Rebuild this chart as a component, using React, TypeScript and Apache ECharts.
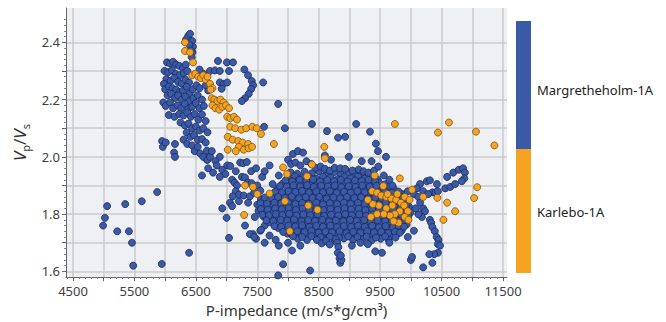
import React, { useEffect, useRef } from "react";
import * as echarts from "echarts";

const FONT = "Noto Sans";

const X_TICKS = [4500, 5000, 5500, 6000, 6500, 7000, 7500, 8000, 8500, 9000, 9500, 10000, 10500, 11000, 11500];
const X_LABELS = [4500, 5500, 6500, 7500, 8500, 9500, 10500, 11500];
const Y_TICKS = [1.6, 1.7, 1.8, 1.9, 2.0, 2.1, 2.2, 2.3, 2.4];
const Y_LABELS = [1.6, 1.8, 2.0, 2.2, 2.4];
const LEGEND_NAMES = ["Margretheholm-1A", "Karlebo-1A"];

// Margretheholm-1A (blue)
const margUpper: number[][] = [
  [6340, 2.41], [6375, 2.422], [6405, 2.43], [6440, 2.405], [6452, 2.385], [6445, 2.365], [6432, 2.348], [6395, 2.392], [6420, 2.372],
  [6030, 2.33], [6080, 2.326], [6130, 2.332], [6180, 2.322], [6230, 2.318], [6290, 2.31], [6335, 2.322],
  [5990, 2.3], [6050, 2.296], [6110, 2.302], [6170, 2.29], [6240, 2.286], [6300, 2.292], [6360, 2.3],
  [6020, 2.272], [6090, 2.266], [6150, 2.276], [6210, 2.262], [6270, 2.256], [6330, 2.27], [6390, 2.26],
  [5980, 2.255], [6000, 2.236], [6060, 2.246], [6120, 2.24], [6180, 2.235], [6230, 2.225], [6290, 2.232], [6350, 2.245], [6400, 2.222], [6450, 2.236], [6510, 2.25], [6560, 2.24],
  [6040, 2.215], [6100, 2.22], [6160, 2.206], [6210, 2.215], [6270, 2.2], [6330, 2.21], [6390, 2.195], [6460, 2.205], [6530, 2.215], [6600, 2.2],
  [5970, 2.19], [6010, 2.178], [6080, 2.19], [6130, 2.17], [6200, 2.18], [6260, 2.17], [6320, 2.185], [6380, 2.168], [6440, 2.175], [6500, 2.188], [6560, 2.17], [6630, 2.178],
  [6060, 2.146], [6150, 2.14], [6230, 2.15], [6300, 2.145], [6360, 2.155], [6420, 2.14], [6480, 2.15], [6540, 2.13], [6600, 2.148], [6660, 2.125],
  [6250, 2.12], [6320, 2.11], [6380, 2.116], [6440, 2.1], [6500, 2.106], [6560, 2.092], [6620, 2.1], [6690, 2.086],
  [6350, 2.085], [6410, 2.07], [6470, 2.076], [6530, 2.06], [6600, 2.062], [6660, 2.05],
  [5950, 2.055], [5962, 2.035], [6010, 2.05], [6160, 2.045], [6160, 2.0], [6300, 2.06], [6360, 2.045], [6440, 2.04], [6480, 2.02], [6530, 2.035], [6570, 2.012], [6620, 2.0], [6690, 1.99], [6730, 2.0], [6680, 2.022], [6890, 2.0], [6760, 2.02], [6820, 1.985],
  [6860, 2.335], [7005, 2.33], [7105, 2.33], [6730, 2.3], [6810, 2.302], [6890, 2.3], [7040, 2.3],
  [7290, 2.305], [7350, 2.285], [7410, 2.265], [7432, 2.25], [7400, 2.237], [7360, 2.22], [7300, 2.205], [7250, 2.195], [7595, 2.26], [7840, 2.185],
  [6890, 2.26], [6950, 2.255], [7010, 2.26], [6920, 2.238], [6700, 2.232], [6660, 2.25], [6620, 2.29], [6560, 2.305],
  [7610, 2.105], [7950, 2.1],
];

const margTransition: number[][] = [
  [6930, 1.955], [6980, 1.94], [6890, 1.93], [7010, 1.97], [7060, 1.968], [7090, 1.92], [7130, 1.91], [7170, 1.9], [7220, 1.98], [7270, 1.978],
  [7330, 1.982], [7250, 1.93], [7300, 1.928], [7350, 1.91], [7410, 1.908], [6930, 1.82], [7055, 1.84], [7090, 1.828], [7000, 1.787], [7200, 1.845],
  [7350, 1.84], [7460, 1.79], [7040, 1.717], [7430, 1.73], [7480, 1.714], [7150, 1.88], [7200, 1.868], [7280, 1.865], [7380, 1.862], [7450, 1.875],
  [7500, 1.9], [7550, 1.882], [7580, 1.93], [7620, 1.95], [7400, 1.95], [7480, 1.96], [7700, 1.97], [7300, 1.76], [7550, 1.742], [7620, 1.76],
  [7150, 1.95], [7100, 1.862], [6600, 1.935], [6700, 1.96], [6780, 1.945], [6840, 1.97], [7380, 1.73], [7450, 1.72], [7560, 1.745], [7620, 1.7],
  [7700, 1.725], [7800, 1.71], [7850, 1.69], [7680, 1.81], [7750, 1.905], [7850, 1.935],
];

const margCore: number[][] = [
  [8040, 1.946], [8150, 1.941], [8270, 1.948], [8390, 1.943], [8500, 1.95], [8630, 1.944], [8750, 1.947], [8860, 1.94], [8990, 1.946], [9100, 1.942], [9230, 1.938],
  [8000, 1.925], [8110, 1.932], [8230, 1.926], [8340, 1.93], [8460, 1.924], [8570, 1.931], [8690, 1.927], [8800, 1.922], [8910, 1.929], [9020, 1.925], [9140, 1.931], [9250, 1.924], [9350, 1.928], [9460, 1.92],
  [7910, 1.906], [8030, 1.91], [8140, 1.914], [8250, 1.907], [8360, 1.911], [8480, 1.905], [8590, 1.912], [8700, 1.908], [8820, 1.904], [8930, 1.91], [9040, 1.906], [9160, 1.913], [9270, 1.907], [9380, 1.902], [9490, 1.909], [9580, 1.904],
  [7830, 1.887], [8060, 1.889], [8170, 1.885], [8280, 1.891], [8390, 1.888], [8510, 1.893], [8620, 1.886], [8730, 1.89], [8850, 1.884], [8960, 1.892], [9070, 1.887], [9180, 1.883], [9300, 1.89], [9410, 1.886], [9520, 1.891], [9640, 1.884], [9720, 1.889],
  [7740, 1.867], [7970, 1.869], [8080, 1.865], [8190, 1.872], [8310, 1.868], [8420, 1.863], [8530, 1.87], [8650, 1.866], [8760, 1.873], [8870, 1.867], [8980, 1.862], [9100, 1.87], [9210, 1.865], [9320, 1.871], [9440, 1.866], [9550, 1.862], [9660, 1.869], [9770, 1.864], [9860, 1.87],
  [7560, 1.852], [7790, 1.854], [7900, 1.849], [8010, 1.845], [8130, 1.851], [8240, 1.847], [8350, 1.853], [8470, 1.846], [8580, 1.85], [8690, 1.844], [8810, 1.852], [8920, 1.847], [9030, 1.843], [9150, 1.85], [9260, 1.845], [9370, 1.852], [9490, 1.847], [9600, 1.843], [9710, 1.849], [9830, 1.845], [9920, 1.85],
  [7500, 1.833], [7610, 1.828], [7720, 1.834], [7840, 1.829], [7950, 1.825], [8060, 1.832], [8180, 1.827], [8290, 1.833], [8400, 1.826], [8520, 1.83], [8630, 1.824], [8740, 1.831], [8860, 1.826], [8970, 1.822], [9080, 1.829], [9200, 1.825], [9310, 1.832], [9420, 1.827], [9540, 1.823], [9650, 1.83], [9760, 1.825], [9880, 1.831], [9970, 1.826],
  [7520, 1.812], [7630, 1.807], [7750, 1.813], [7860, 1.808], [7970, 1.804], [8090, 1.81], [8200, 1.806], [8310, 1.812], [8430, 1.805], [8540, 1.809], [8650, 1.803], [8770, 1.811], [8880, 1.806], [8990, 1.802], [9110, 1.809], [9220, 1.805], [9330, 1.811], [9450, 1.806], [9560, 1.802], [9670, 1.808], [9790, 1.804], [9900, 1.81], [9990, 1.805],
  [7600, 1.792], [7710, 1.787], [7820, 1.793], [7940, 1.788], [8050, 1.784], [8160, 1.79], [8280, 1.786], [8390, 1.792], [8500, 1.785], [8620, 1.789], [8730, 1.783], [8840, 1.791], [8960, 1.786], [9070, 1.782], [9180, 1.789], [9300, 1.785], [9410, 1.791], [9520, 1.786], [9640, 1.782], [9750, 1.788], [9860, 1.784], [9950, 1.79],
  [7700, 1.772], [7820, 1.767], [7930, 1.773], [8040, 1.768], [8160, 1.764], [8270, 1.77], [8380, 1.766], [8500, 1.772], [8610, 1.765], [8720, 1.769], [8840, 1.763], [8950, 1.771], [9060, 1.766], [9180, 1.762], [9290, 1.769], [9400, 1.765], [9520, 1.771], [9630, 1.766], [9740, 1.762], [9850, 1.768], [9930, 1.764],
  [7840, 1.752], [7950, 1.747], [8070, 1.753], [8180, 1.748], [8290, 1.744], [8410, 1.75], [8520, 1.746], [8630, 1.752], [8750, 1.745], [8860, 1.749], [8970, 1.743], [9090, 1.751], [9200, 1.746], [9310, 1.742], [9430, 1.749], [9540, 1.745], [9650, 1.751], [9760, 1.746], [9850, 1.742],
  [7990, 1.732], [8100, 1.727], [8220, 1.733], [8330, 1.728], [8440, 1.724], [8560, 1.73], [8670, 1.726], [8780, 1.732], [8900, 1.725], [9010, 1.729], [9120, 1.723], [9240, 1.731], [9350, 1.726], [9460, 1.722], [9580, 1.729], [9690, 1.725], [9780, 1.731],
  [8160, 1.714], [8310, 1.71], [8460, 1.716], [8610, 1.711], [8760, 1.708], [8910, 1.715], [9060, 1.71], [9210, 1.713], [9360, 1.708], [9510, 1.714], [9640, 1.71],
];

const margCoreFill: number[][] = [
  [7960, 1.918], [8070, 1.915], [8190, 1.92], [8300, 1.916], [8410, 1.921], [8520, 1.914], [8640, 1.919], [8750, 1.915], [8860, 1.92], [8970, 1.914], [9090, 1.918], [9200, 1.915], [9310, 1.92], [9420, 1.913],
  [7870, 1.898], [7980, 1.896], [8090, 1.9], [8200, 1.897], [8310, 1.901], [8420, 1.895], [8540, 1.899], [8650, 1.896], [8760, 1.9], [8870, 1.894], [8990, 1.898], [9100, 1.895], [9210, 1.9], [9330, 1.896], [9440, 1.899], [9550, 1.894], [9660, 1.898],
  [7790, 1.878], [7900, 1.876], [8010, 1.88], [8120, 1.877], [8230, 1.881], [8340, 1.875], [8460, 1.879], [8570, 1.876], [8680, 1.88], [8790, 1.874], [8910, 1.878], [9020, 1.875], [9130, 1.88], [9250, 1.876], [9360, 1.879], [9470, 1.874], [9580, 1.878], [9700, 1.875], [9800, 1.879],
  [7620, 1.858], [7730, 1.856], [7840, 1.86], [7950, 1.857], [8060, 1.861], [8180, 1.855], [8290, 1.859], [8400, 1.856], [8510, 1.86], [8630, 1.854], [8740, 1.858], [8850, 1.855], [8960, 1.86], [9080, 1.856], [9190, 1.859], [9300, 1.854], [9420, 1.858], [9530, 1.855], [9640, 1.86], [9750, 1.856], [9870, 1.859],
  [7550, 1.838], [7660, 1.836], [7780, 1.84], [7890, 1.837], [8000, 1.841], [8120, 1.835], [8230, 1.839], [8340, 1.836], [8460, 1.84], [8570, 1.834], [8680, 1.838], [8800, 1.835], [8910, 1.84], [9020, 1.836], [9140, 1.839], [9250, 1.834], [9360, 1.838], [9480, 1.835], [9590, 1.84], [9700, 1.836], [9820, 1.839], [9930, 1.834],
  [7560, 1.818], [7670, 1.816], [7790, 1.82], [7900, 1.817], [8010, 1.821], [8130, 1.815], [8240, 1.819], [8350, 1.816], [8470, 1.82], [8580, 1.814], [8690, 1.818], [8810, 1.815], [8920, 1.82], [9030, 1.816], [9150, 1.819], [9260, 1.814], [9370, 1.818], [9490, 1.815], [9600, 1.82], [9710, 1.816], [9830, 1.819], [9940, 1.814],
  [7580, 1.798], [7690, 1.796], [7800, 1.8], [7910, 1.797], [8020, 1.801], [8140, 1.795], [8250, 1.799], [8360, 1.796], [8480, 1.8], [8590, 1.794], [8700, 1.798], [8820, 1.795], [8930, 1.8], [9040, 1.796], [9160, 1.799], [9270, 1.794], [9380, 1.798], [9500, 1.795], [9610, 1.8], [9720, 1.796], [9840, 1.799], [9960, 1.794],
  [7650, 1.778], [7760, 1.776], [7880, 1.78], [7990, 1.777], [8100, 1.781], [8220, 1.775], [8330, 1.779], [8440, 1.776], [8560, 1.78], [8670, 1.774], [8780, 1.778], [8900, 1.775], [9010, 1.78], [9120, 1.776], [9240, 1.779], [9350, 1.774], [9460, 1.778], [9580, 1.775], [9690, 1.78], [9800, 1.776], [9910, 1.779],
  [7780, 1.758], [7890, 1.756], [8010, 1.76], [8120, 1.757], [8230, 1.761], [8350, 1.755], [8460, 1.759], [8570, 1.756], [8690, 1.76], [8800, 1.754], [8910, 1.758], [9030, 1.755], [9140, 1.76], [9250, 1.756], [9370, 1.759], [9480, 1.754], [9590, 1.758], [9710, 1.755], [9800, 1.76], [9890, 1.756],
  [7920, 1.738], [8040, 1.736], [8150, 1.74], [8270, 1.737], [8380, 1.741], [8500, 1.735], [8610, 1.739], [8720, 1.736], [8840, 1.74], [8950, 1.734], [9060, 1.738], [9180, 1.735], [9290, 1.74], [9400, 1.736], [9520, 1.739], [9630, 1.734], [9740, 1.738], [9820, 1.735],
  [8080, 1.722], [8230, 1.72], [8380, 1.723], [8530, 1.719], [8680, 1.721], [8830, 1.718], [8980, 1.722], [9130, 1.72], [9280, 1.721], [9430, 1.718], [9580, 1.722],
];

const margFringe: number[][] = [
  [8080, 2.01], [8160, 2.02], [8245, 2.015], [8000, 1.99], [8050, 1.975], [8120, 1.98], [8200, 1.97], [8300, 1.985], [8380, 1.975], [8450, 1.962],
  [8530, 1.966], [8600, 1.958], [8680, 1.952], [8760, 1.962], [8850, 1.96], [8990, 2.0], [8930, 1.958], [9050, 1.952], [9150, 1.956], [9230, 1.95],
  [9310, 1.945], [9400, 1.952], [9470, 1.966], [9595, 2.0], [9430, 2.046], [9465, 2.02], [9335, 2.088], [9110, 2.115], [8815, 2.067], [8930, 2.07],
  [8635, 2.09], [8390, 2.115], [8600, 2.005], [8700, 1.99], [9200, 1.985], [9360, 1.985], [9560, 1.935], [9650, 1.92], [9700, 1.9],
  [8470, 1.71], [8550, 1.698], [8620, 1.706], [8680, 1.694], [8780, 1.712], [8800, 1.7], [8820, 1.685], [8810, 1.665], [8840, 1.645], [8850, 1.63],
  [8870, 1.64], [8860, 1.655], [8065, 1.673], [7920, 1.625], [8360, 1.603], [7840, 1.586], [9420, 1.67], [9530, 1.665], [9040, 1.69], [9180, 1.7],
  [9300, 1.695], [9650, 1.7], [9750, 1.718], [9950, 1.72], [10050, 1.742], [8200, 1.69], [8000, 1.7],
];

const margTail: number[][] = [
  [10150, 1.905], [10260, 1.915], [10310, 1.918], [10425, 1.905], [10350, 1.876], [10400, 1.876], [10440, 1.88], [10560, 1.89], [10640, 1.895], [10720, 1.905],
  [10590, 1.93], [10690, 1.945], [10780, 1.955], [10850, 1.96], [10880, 1.945], [10870, 1.925], [10830, 1.915], [10100, 1.89], [10200, 1.88], [10280, 1.87],
  [9950, 1.88], [10050, 1.87], [10120, 1.86],
  [10200, 1.82], [10230, 1.81], [10310, 1.78], [10330, 1.77], [10350, 1.755], [10390, 1.74], [10420, 1.72], [10450, 1.71], [10440, 1.695], [10475, 1.69],
  [10440, 1.665], [10380, 1.66], [10300, 1.66], [10000, 1.64], [10020, 1.65], [10200, 1.614], [10350, 1.63], [10180, 1.79], [10120, 1.8], [10080, 1.82], [10150, 1.84],
];

const margOutliers: number[][] = [
  [4990, 1.76], [5020, 1.787], [5055, 1.828], [5220, 1.74], [5350, 1.835], [5410, 1.74], [5460, 1.7], [5480, 1.62], [5620, 1.845], [5870, 1.877],
  [5945, 1.626], [6145, 2.015], [6390, 1.665], [6680, 1.99], [6720, 2.005],
];

// Karlebo-1A (orange)
const karlUpper: number[][] = [
  [6323, 2.4], [6323, 2.37], [6405, 2.365], [6453, 2.33],
  [6440, 2.285], [6490, 2.29], [6540, 2.28], [6580, 2.275], [6620, 2.285], [6660, 2.27], [6690, 2.28],
  [6730, 2.255], [6770, 2.24], [6740, 2.235],
  [6760, 2.205], [6800, 2.2], [6850, 2.195], [6900, 2.2], [6950, 2.19], [6770, 2.18], [6820, 2.17], [6880, 2.165], [6930, 2.175], [6990, 2.18], [7040, 2.17],
  [7010, 2.14], [7060, 2.135], [7120, 2.14], [7170, 2.13],
  [7060, 2.105], [7140, 2.1], [7240, 2.095], [7320, 2.1], [7420, 2.105], [7490, 2.1],
  [7020, 2.07], [7100, 2.06], [7190, 2.055], [7260, 2.05], [7350, 2.045], [7200, 2.035], [7150, 2.02], [7280, 2.025], [7360, 2.03], [7020, 2.025],
  [7770, 2.045], [7560, 2.08], [7415, 2.035],
];

const karlCore: number[][] = [
  [8590, 2.035], [7920, 1.963], [8390, 1.973], [7985, 1.94], [8310, 1.932], [7300, 1.9], [7430, 1.895], [7500, 1.87], [7700, 1.872],
  [7950, 1.845], [8330, 1.83], [8480, 1.815], [8030, 1.74], [7285, 1.797], [8600, 1.995],
];

const karlRight: number[][] = [
  [9410, 1.935], [9550, 1.898], [9370, 1.88], [9450, 1.875], [9520, 1.865], [9600, 1.86], [9680, 1.855], [9760, 1.85], [9840, 1.84], [9890, 1.83],
  [9950, 1.81], [9820, 1.81], [9740, 1.8], [9660, 1.795], [9900, 1.79], [9960, 1.78], [9800, 1.77], [9720, 1.775], [9600, 1.82], [9480, 1.83],
  [9380, 1.835], [9300, 1.85], [9700, 1.83], [9560, 1.8], [9900, 1.86], [9980, 1.85], [10020, 1.885], [9820, 1.925], [9620, 1.87], [9450, 1.8],
  [9350, 1.79], [9780, 1.87],
];

const karlFar: number[][] = [
  [9740, 2.115], [10620, 2.12], [10440, 2.085], [11060, 2.088], [11360, 2.04], [10590, 1.84], [10720, 1.81], [10530, 1.78], [11080, 1.894],
  [11030, 1.856], [10200, 1.86], [10430, 1.857],
];

const margData = [...margOutliers, ...margUpper, ...margTransition, ...margCore, ...margCoreFill, ...margFringe, ...margTail];
const karlData = [...karlUpper, ...karlCore, ...karlRight, ...karlFar];

const BLUE = "#3a5aa8";
const ORANGE = "#f5a320";

export default function App() {
  const ref = useRef<HTMLDivElement>(null);
  useEffect(() => {
    if (!ref.current) return;
    const chart = echarts.init(ref.current, null, { renderer: "svg" });
    const option: any = {
      animation: false,
      grid: { left: 66, top: 8, right: 159, bottom: 43, show: true, backgroundColor: "#eef0f3", borderWidth: 0 },
      xAxis: {
        type: "value",
        min: 4386,
        max: 11565,
        splitNumber: 14,
        name: "P-impedance (m/s*g/cm³)",
        nameLocation: "middle",
        nameGap: 24,
        nameTextStyle: { fontSize: 15, color: "#333", fontFamily: FONT, padding: [0, 0, 0, 20] },
        axisLine: { show: true, onZero: false, lineStyle: { color: "#666", width: 1 } },
        axisTick: { show: true, customValues: X_TICKS, length: 4, lineStyle: { color: "#666" } },
        minorTick: { show: true, splitNumber: 5, length: 2, lineStyle: { color: "#888" } },
        axisLabel: {
          customValues: X_LABELS,
          fontSize: 13,
          color: "#404040",
          margin: 7,
          fontFamily: FONT,
          formatter: (v: number) => String(Math.round(v)),
        },
        splitLine: { show: true, lineStyle: { color: "#cbcbcb", width: 1.5 } },
      },
      yAxis: {
        type: "value",
        min: 1.58,
        max: 2.52,
        splitNumber: 10,
        name: "{v|V}{s|p}{n|/}{v|V}{s|s}",
        nameLocation: "middle",
        nameRotate: 90,
        nameGap: 30,
        nameTextStyle: {
          color: "#333",
          fontFamily: FONT,
          fontSize: 17,
          rich: {
            v: { fontSize: 17, fontStyle: "italic", lineHeight: 22, color: "#333", fontFamily: FONT },
            n: { fontSize: 17, lineHeight: 22, color: "#333", fontFamily: FONT },
            s: { fontSize: 11, lineHeight: 12, verticalAlign: "bottom", color: "#333", fontFamily: FONT },
          },
        },
        axisLine: { show: true, onZero: false, lineStyle: { color: "#666", width: 1 } },
        axisTick: { show: true, customValues: Y_TICKS, length: 4, lineStyle: { color: "#666" } },
        minorTick: { show: true, splitNumber: 5, length: 2, lineStyle: { color: "#888" } },
        axisLabel: {
          customValues: Y_LABELS,
          fontSize: 13,
          color: "#404040",
          margin: 6,
          fontFamily: FONT,
          formatter: (v: number) => v.toFixed(1),
        },
        splitLine: { show: true, lineStyle: { color: "#cbcbcb", width: 1.5 } },
      },
      series: [
        {
          name: LEGEND_NAMES[0],
          type: "scatter",
          data: margData,
          symbolSize: 7,
          itemStyle: { color: BLUE, borderColor: "#1b2a5c", borderWidth: 0.8, opacity: 1 },
        },
        {
          name: LEGEND_NAMES[1],
          type: "scatter",
          data: karlData,
          symbolSize: 7,
          itemStyle: { color: ORANGE, borderColor: "#7a5210", borderWidth: 0.8, opacity: 1 },
        },
      ],
      graphic: [
        { type: "rect", shape: { x: 516, y: 21, width: 15, height: 128 }, style: { fill: BLUE } },
        { type: "rect", shape: { x: 516, y: 149, width: 15, height: 124 }, style: { fill: ORANGE } },
        {
          type: "text",
          x: 537,
          y: 90,
          style: { text: LEGEND_NAMES[0], fontSize: 13, fontFamily: FONT, fill: "#222", verticalAlign: "middle" },
        },
        {
          type: "text",
          x: 537,
          y: 212,
          style: { text: LEGEND_NAMES[1], fontSize: 13, fontFamily: FONT, fill: "#222", verticalAlign: "middle" },
        },
      ],
    };
    chart.setOption(option);
    return () => chart.dispose();
  }, []);
  return <div ref={ref} style={{ position: "fixed", left: 0, top: 0, width: 666, height: 322, background: "#fff" }} />;
}
